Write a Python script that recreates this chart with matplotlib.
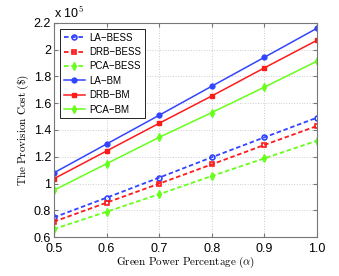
import matplotlib
matplotlib.use("Agg")
import matplotlib.pyplot as plt
from matplotlib.ticker import FuncFormatter

plt.rcParams['mathtext.fontset'] = 'cm'
plt.rcParams['font.family'] = ['Liberation Sans', 'DejaVu Sans']

# green power percentage
alpha = [0.5, 0.6, 0.7, 0.8, 0.9, 1.0]

# provision cost ($)
la_bess = [0.747e5, 0.894e5, 1.044e5, 1.196e5, 1.345e5, 1.492e5]
drb_bess = [0.715e5, 0.857e5, 0.999e5, 1.143e5, 1.288e5, 1.430e5]
pca_bess = [0.660e5, 0.789e5, 0.920e5, 1.056e5, 1.188e5, 1.320e5]
la_bm = [1.080e5, 1.295e5, 1.510e5, 1.727e5, 1.943e5, 2.160e5]
drb_bm = [1.036e5, 1.243e5, 1.450e5, 1.654e5, 1.864e5, 2.070e5]
pca_bm = [0.950e5, 1.148e5, 1.345e5, 1.530e5, 1.720e5, 1.914e5]

x_ticks = [0.5, 0.6, 0.7, 0.8, 0.9, 1.0]
y_ticks = [0.6e5, 0.8e5, 1.0e5, 1.2e5, 1.4e5, 1.6e5, 1.8e5, 2.0e5, 2.2e5]

blue = '#3344ff'
red = '#ff1a1a'
green = '#66ff1a'

fig = plt.figure(figsize=(3.39, 2.76), dpi=100)
ax = fig.add_axes([0.159, 0.141, 0.776, 0.776])

ax.plot(alpha, la_bess, color=blue, ls=(0, (2.5, 1.5)), lw=1.3, marker='o',
        ms=3.5, mfc='none', mew=1.2, label='LA\u2212BESS')
ax.plot(alpha, drb_bess, color=red, ls=(0, (2.5, 1.5)), lw=1.3, marker='s',
        ms=3.5, mfc='none', mew=1.2, label='DRB\u2212BESS')
ax.plot(alpha, pca_bess, color=green, ls=(0, (2.5, 1.5)), lw=1.3, marker='d',
        ms=4, mew=1.0, label='PCA\u2212BESS')
ax.plot(alpha, la_bm, color=blue, lw=1.1, marker='o', ms=3.5,
        label='LA\u2212BM')
ax.plot(alpha, drb_bm, color=red, lw=1.1, marker='s', ms=3.5,
        label='DRB\u2212BM')
ax.plot(alpha, pca_bm, color=green, lw=1.1, marker='d', ms=4,
        label='PCA\u2212BM')

ax.set_xlim(0.5, 1.0)
ax.set_ylim(0.6e5, 2.2e5)
ax.set_xticks(x_ticks)
ax.set_yticks(y_ticks)
ax.xaxis.set_major_formatter(FuncFormatter(lambda v, p: '%.1f' % v))
ax.yaxis.set_major_formatter(FuncFormatter(lambda v, p: '%g' % round(v / 1e5, 2)))
ax.tick_params(direction='in', labelsize=9, length=3, color='#777777',
               top=True, right=True)
ax.tick_params(axis='x', pad=4)
ax.tick_params(axis='y', pad=2)
for s in ax.spines.values():
    s.set_color('#777777')
ax.grid(True, ls=':', color='#cccccc', lw=0.7)

ax.text(0.0, 1.01, r'x 10$^5$', transform=ax.transAxes, fontsize=9,
        ha='left', va='bottom')

ax.set_xlabel(r'$\mathrm{Green\ Power\ Percentage\ }(\alpha)$', fontsize=8,
              labelpad=0)
ax.set_ylabel(r'$\mathrm{The\ Provision\ Cost\ (\$)}$', fontsize=8, labelpad=2)

leg = ax.legend(loc='upper left', fontsize=7, fancybox=False,
                edgecolor='black', framealpha=1, handlelength=2.2,
                borderaxespad=0.6, labelspacing=0.45, handletextpad=0.4)
leg.get_frame().set_linewidth(0.6)

fig.savefig('out.png', dpi=100)
